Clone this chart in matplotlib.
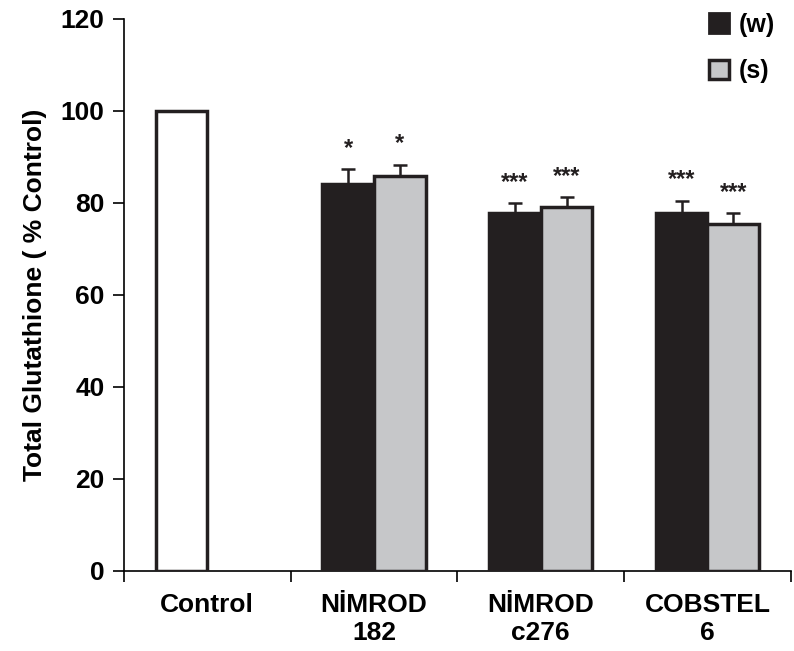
import numpy as np
import matplotlib
matplotlib.use("Agg")
import matplotlib.pyplot as plt
from matplotlib.patches import Patch

plt.rcParams["font.family"] = ["Liberation Sans", "DejaVu Sans"]
plt.rcParams["font.weight"] = "bold"

categories = ["Control", "NİMROD\n182", "NİMROD\nc276", "COBSTEL\n6"]
control_value = 100
w_values = [84.0, 77.9, 77.8]
w_err = [3.4, 2.0, 2.7]
s_values = [85.9, 79.0, 75.4]
s_err = [2.4, 2.2, 2.4]
w_stars = ["*", "***", "***"]
s_stars = ["*", "***", "***"]

BLACK = "#231f20"
GREY = "#c6c7c9"


def main():
    fig = plt.figure(figsize=(7.94, 6.51), dpi=100)
    ax = fig.add_axes([0.156, 0.123, 0.84, 0.848])

    width = 0.31
    centers = np.arange(len(categories)) + 0.5

    ax.bar(centers[0] - width / 2, control_value, width, color="white",
           edgecolor=BLACK, linewidth=2.5, zorder=3)

    x = centers[1:]
    ax.bar(x - width / 2, w_values, width, color=BLACK, edgecolor=BLACK,
           linewidth=2.5, zorder=3)
    ax.bar(x + width / 2, s_values, width, color=GREY, edgecolor=BLACK,
           linewidth=2.5, zorder=3)

    zeros = [0] * len(x)
    ax.errorbar(x - width / 2, w_values, yerr=[zeros, w_err], fmt="none",
                ecolor=BLACK, elinewidth=1.8, capsize=5, capthick=1.8, zorder=2)
    ax.errorbar(x + width / 2, s_values, yerr=[zeros, s_err], fmt="none",
                ecolor=BLACK, elinewidth=1.8, capsize=5, capthick=1.8, zorder=2)

    for xi, v, e, st in zip(x - width / 2, w_values, w_err, w_stars):
        ax.text(xi, v + e + 4.5, st, ha="center", va="center", fontsize=17,
                color=BLACK)
    for xi, v, e, st in zip(x + width / 2, s_values, s_err, s_stars):
        ax.text(xi, v + e + 4.5, st, ha="center", va="center", fontsize=17,
                color=BLACK)

    ax.set_xlim(0, 4)
    ax.set_ylim(0, 120)
    ax.set_yticks(np.arange(0, 121, 20))
    ax.set_xticks(np.arange(0, 5))
    ax.set_xticklabels([])
    ax.set_xticks(centers, minor=True)
    ax.set_xticklabels(categories, minor=True, fontsize=19, fontweight="bold")
    ax.tick_params(axis="x", which="minor", length=0, pad=16)
    ax.tick_params(axis="x", which="major", length=8, width=1.2, direction="out")
    ax.tick_params(axis="y", length=8, width=1.2, labelsize=19, pad=6)
    for lab in ax.get_yticklabels():
        lab.set_fontweight("bold")

    for side in ["top", "right"]:
        ax.spines[side].set_visible(False)
    for side in ["left", "bottom"]:
        ax.spines[side].set_linewidth(1.2)

    ax.set_ylabel("Total Glutathione ( % Control)", fontsize=19,
                  fontweight="bold", labelpad=10)

    handles = [Patch(facecolor=BLACK, edgecolor=BLACK, linewidth=2),
               Patch(facecolor=GREY, edgecolor=BLACK, linewidth=2.5)]
    fig.legend(handles, ["(w)", "(s)"], loc="upper right",
               bbox_to_anchor=(1.005, 1.015), frameon=False, fontsize=18,
               handlelength=0.8, handleheight=0.8, handletextpad=0.4,
               labelspacing=0.9)

    fig.savefig("out.png", dpi=100)


if __name__ == "__main__":
    main()
